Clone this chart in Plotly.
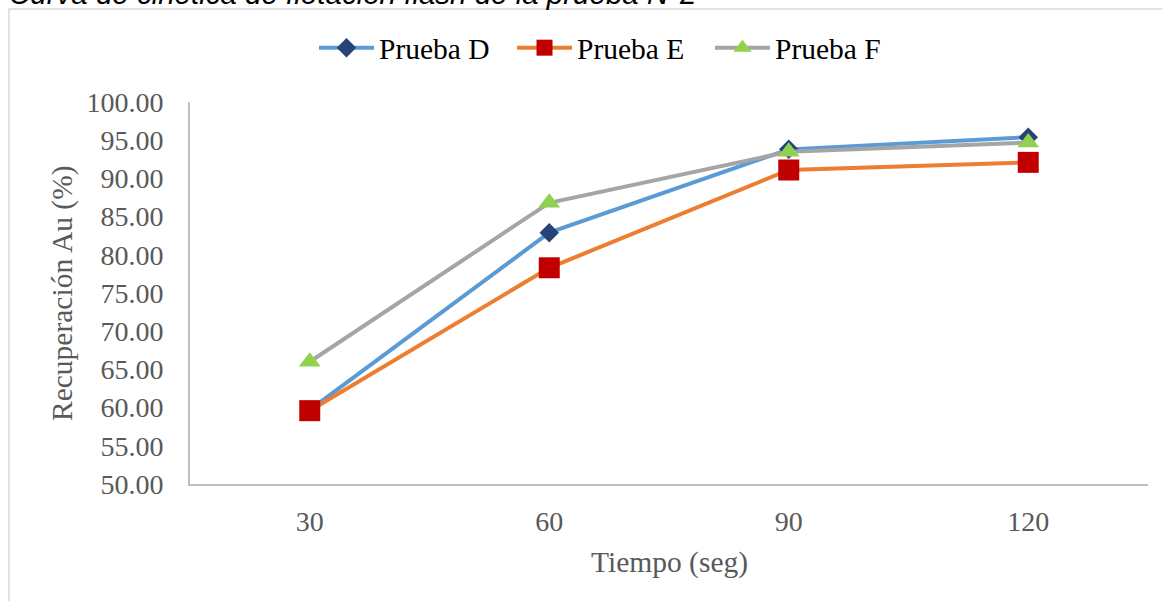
import plotly.graph_objects as go

# Flotation kinetics data: Au recovery (%) vs. time (s)
tiempo = ["30", "60", "90", "120"]
prueba_d = [59.7, 82.9, 93.8, 95.4]
prueba_e = [59.6, 78.3, 91.1, 92.1]
prueba_f = [66.0, 86.8, 93.5, 94.7]

y_ticks = [50, 55, 60, 65, 70, 75, 80, 85, 90, 95, 100]

W, H = 1162, 601
L, R, T, B = 190, 14, 102, 117
pw, ph = W - L - R, H - T - B


def px_x(x):
    return (x - L) / pw


def px_y(y):
    return (H - B - y) / ph


series = [
    ("Prueba D", prueba_d, "#5B9BD5", "#264478", "diamond", 15),
    ("Prueba E", prueba_e, "#ED7D31", "#C00000", "square", 21),
    ("Prueba F", prueba_f, "#A5A5A5", "#92D050", "triangle-up", 19),
]

fig = go.Figure()
for name, vals, lc, mc, sym, sz in series:
    fig.add_trace(go.Scatter(
        x=tiempo, y=vals, name=name, mode="lines+markers",
        line=dict(color=lc, width=4),
        marker=dict(symbol=sym, size=sz, color=mc, line=dict(width=0)),
    ))

serif = "Liberation Serif, Times New Roman, serif"
tick_font = dict(family=serif, size=28, color="#595959")
title_font = dict(family=serif, size=29.5, color="#595959")

fig.update_layout(
    width=W, height=H,
    margin=dict(l=L, r=R, t=T, b=B),
    paper_bgcolor="white", plot_bgcolor="white",
    showlegend=True,
    legend=dict(
        orientation="h", x=px_x(611), y=px_y(48), xanchor="center", yanchor="middle",
        font=dict(family=serif, size=29.5, color="#000000"),
        bgcolor="rgba(0,0,0,0)", itemwidth=55, entrywidth=128,
    ),
    xaxis=dict(
        type="category", range=[-0.5, 3.5], showgrid=False, zeroline=False,
        showline=True, linecolor="#BFBFBF", linewidth=2, ticks="",
        tickfont=tick_font, ticklabelstandoff=11,
    ),
    yaxis=dict(
        range=[50, 100], tickvals=y_ticks, ticktext=[f"{v:.2f}" for v in y_ticks],
        showgrid=False, zeroline=False,
        showline=True, linecolor="#BFBFBF", linewidth=2, ticks="",
        tickfont=tick_font, ticklabelstandoff=19,
    ),
    shapes=[dict(
        type="rect", xref="paper", yref="paper",
        x0=px_x(9), x1=px_x(1200), y0=px_y(660), y1=px_y(9),
        line=dict(color="#D9D9D9", width=1.5), fillcolor="rgba(0,0,0,0)", layer="below",
    )],
    annotations=[
        dict(text="Curva de cinética de flotación flash de la prueba N°2",
             xref="paper", yref="paper", x=px_x(7), y=px_y(2), xanchor="left", yanchor="bottom",
             showarrow=False, yshift=-10,
             font=dict(family="Liberation Sans, Arial, sans-serif", size=29.5, color="#000000", style="italic")),
        dict(text="Tiempo (seg)", xref="paper", yref="paper", x=0.5, y=px_y(562),
             xanchor="center", yanchor="middle", showarrow=False, font=title_font),
        dict(text="Recuperación Au (%)", xref="paper", yref="paper", x=px_x(62), y=0.5,
             xanchor="center", yanchor="middle", textangle=-90, showarrow=False, font=title_font),
    ],
)

fig.write_html("out.html")
